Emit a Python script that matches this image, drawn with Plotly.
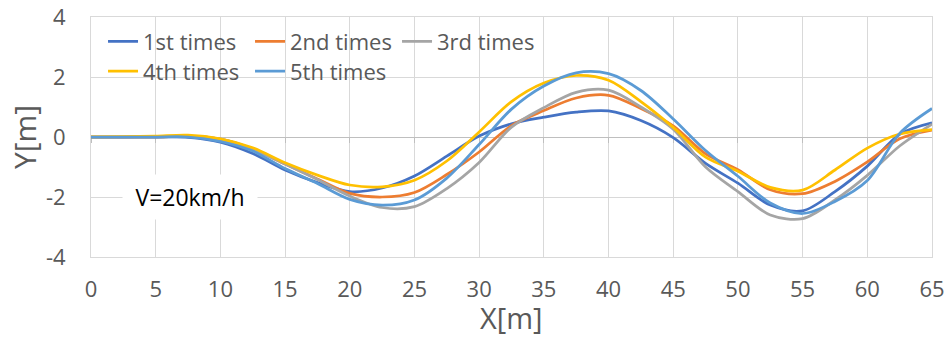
import plotly.graph_objects as go

x_m = [0, 2.5, 5, 7.5, 10, 12.5, 15, 17.5, 20, 22.5, 25, 27.5, 30, 32.5, 35,
       37.5, 40, 42.5, 45, 47.5, 50, 52.5, 55, 57.5, 60, 62.5, 65]

y_1st = [0, 0, 0, -0.01, -0.17, -0.55, -1.1, -1.52, -1.82, -1.7, -1.3, -0.64, 0.03, 0.44,
         0.66, 0.83, 0.87, 0.55, -0.02, -0.88, -1.54, -2.27, -2.46, -1.82, -0.97, 0.09, 0.47]
y_2nd = [0, 0, 0, 0.03, -0.07, -0.4, -0.9, -1.4, -1.88, -2.0, -1.85, -1.25, -0.5, 0.38,
         0.88, 1.3, 1.39, 0.95, 0.37, -0.56, -1.09, -1.76, -1.89, -1.48, -0.83, -0.06, 0.23]
y_3rd = [0, 0, 0, 0.03, -0.07, -0.4, -0.9, -1.42, -1.97, -2.35, -2.32, -1.72, -0.85, 0.33,
         0.98, 1.49, 1.56, 1.0, 0.26, -1.0, -1.82, -2.6, -2.72, -2.1, -1.28, -0.3, 0.43]
y_4th = [0, 0.01, 0.03, 0.06, -0.06, -0.36, -0.86, -1.27, -1.6, -1.66, -1.44, -0.8, 0.17, 1.18,
         1.8, 2.05, 1.89, 1.18, 0.32, -0.67, -1.14, -1.68, -1.77, -1.1, -0.37, 0.1, 0.25]
y_5th = [0, 0, 0, 0, -0.15, -0.47, -1.05, -1.55, -2.08, -2.27, -2.1, -1.37, -0.25, 0.93,
         1.7, 2.14, 2.11, 1.55, 0.6, -0.45, -1.31, -2.2, -2.55, -2.15, -1.45, 0.12, 0.95]

series_names = ["1st times", "2nd times", "3rd times", "4th times", "5th times"]
series_values = [y_1st, y_2nd, y_3rd, y_4th, y_5th]
series_colors = ["#4472C4", "#ED7D31", "#A5A5A5", "#FFC000", "#5B9BD5"]
series_legend = ["legend", "legend", "legend", "legend2", "legend2"]

y_tick_vals = [-4, -2, 0, 2, 4]
y_tick_text = ["-4", "-2", "0", "2", "4"]

FONT = "Open Sans"
TXT = "#595959"
GRID = "#D9D9D9"

fig = go.Figure()
# dummy trace for the zero-crossing axis
fig.add_trace(go.Scatter(x=[None], y=[None], xaxis="x2", yaxis="y",
                         showlegend=False, hoverinfo="skip"))
for name, vals, col, lg in zip(series_names, series_values, series_colors, series_legend):
    fig.add_trace(go.Scatter(x=x_m, y=vals, name=name, mode="lines",
                             line=dict(color=col, width=2.75, shape="spline", smoothing=0.9),
                             legend=lg))

fig.update_layout(
    width=945, height=349,
    margin=dict(l=91, r=13, t=17, b=92, autoexpand=False),
    paper_bgcolor="white", plot_bgcolor="white",
    font=dict(family=FONT, size=22, color=TXT),
    xaxis=dict(range=[0, 65], tick0=0, dtick=5, showgrid=True, gridcolor=GRID, gridwidth=1,
               showline=True, mirror=True, linecolor=GRID, zeroline=False, ticks="",
               automargin=False, ticklabeloverflow="allow",
               ticklabelstandoff=13, tickfont=dict(family=FONT, size=22, color=TXT)),
    xaxis2=dict(range=[0, 65], tick0=0, dtick=5, overlaying="x", anchor="free", position=0.5,
                side="bottom", showgrid=False, zeroline=False, showline=True, automargin=False,
                linecolor="#BFBFBF", linewidth=1.3, ticks="outside", ticklen=5,
                tickcolor="#BFBFBF", showticklabels=False, layer="below traces"),
    yaxis=dict(range=[-4, 4], tickmode="array", tickvals=y_tick_vals, ticktext=y_tick_text,
               showgrid=True, gridcolor=GRID, gridwidth=1,
               showline=True, mirror=True, linecolor=GRID, zeroline=False, ticks="",
               automargin=False, ticklabeloverflow="allow",
               ticklabelstandoff=20, tickfont=dict(family=FONT, size=22, color=TXT),
               title=dict(text="Y[m]", font=dict(family=FONT, size=30, color=TXT), standoff=0)),
    legend=dict(orientation="h", x=0.0143, xanchor="left", y=0.985, yanchor="top",
                entrywidth=102, entrywidthmode="pixels", bgcolor="rgba(0,0,0,0)",
                font=dict(family=FONT, size=22, color=TXT), tracegroupgap=0),
    legend2=dict(orientation="h", x=0.0143, xanchor="left", y=0.861, yanchor="top",
                 entrywidth=102, entrywidthmode="pixels", bgcolor="rgba(0,0,0,0)",
                 font=dict(family=FONT, size=22, color=TXT), tracegroupgap=0),
    shapes=[dict(type="rect", xref="paper", yref="paper", x0=0.0107, x1=0.534,
                 y0=0.756, y1=0.946, fillcolor="white", line=dict(width=0), layer="between")],
    annotations=[
        dict(text="V=20km/h", xref="paper", yref="paper", x=0.1177, y=0.25,
             xanchor="center", yanchor="middle",
             showarrow=False, bgcolor="white", width=132, height=42,
             font=dict(family=FONT, size=23, color="black")),
        dict(text="X[m]", xref="paper", yref="paper", x=0.5, y=-0.254,
             xanchor="center", yanchor="middle", showarrow=False,
             font=dict(family=FONT, size=29, color=TXT)),
    ],
)

fig.write_html("out.html", config={"displayModeBar": False},
               post_script="document.body.style.margin='0';document.body.style.overflow='hidden';")
